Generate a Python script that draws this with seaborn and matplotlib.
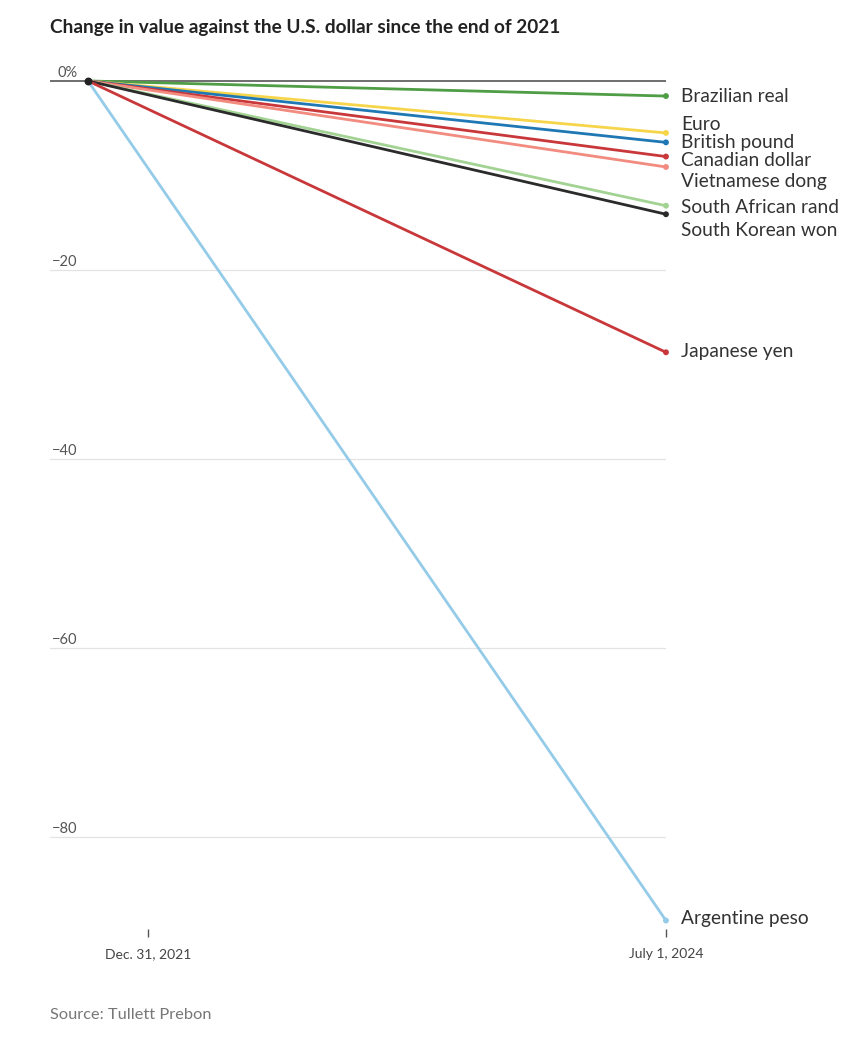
"""
Slope chart: currency change vs the U.S. dollar, end of 2021 to July 2024.
"""
import numpy as np
import pandas as pd
import matplotlib.pyplot as plt
import matplotlib.transforms as mtransforms
import seaborn as sns

# Data (percent change)
currencies = ["Brazilian real", "Euro", "British pound", "Canadian dollar",
              "Vietnamese dong", "South African rand", "South Korean won",
              "Japanese yen", "Argentine peso"]
change_2024 = [-1.6, -5.5, -6.5, -8.0, -9.1, -13.2, -14.1, -28.7, -88.8]
label_y = [-1.6, -4.6, -6.5, -8.4, -10.6, -13.4, -15.8, -28.6, -88.6]
colors = ["#4f9d45", "#f7d54a", "#1f78b4", "#c8373a", "#f28b80",
          "#a2d393", "#2b2b2b", "#c8373a", "#94cbe8"]
x_ticks = [0.104, 1.0]
x_ticklabels = ["Dec. 31, 2021", "July 1, 2024"]
y_grid = [0, -20, -40, -60, -80]
y_ticklabels = ["0%", "\u221220", "\u221240", "\u221260", "\u221280"]

df = pd.DataFrame({
    "currency": np.repeat(currencies, 2),
    "x": [0.0, 1.0] * len(currencies),
    "change": [v for c in change_2024 for v in (0.0, c)],
})
palette = dict(zip(currencies, colors))

sns.set_theme(style="white")
plt.rcParams["font.family"] = ["Lato", "DejaVu Sans"]

fig = plt.figure(figsize=(8.5, 10.37), dpi=100)
ax = fig.add_axes([0.0588, 0.1041, 0.7247, 0.8361])

# gridlines
for g in y_grid:
    ax.axhline(g, color="#555555" if g == 0 else "#e3e3e3",
               lw=1.2 if g == 0 else 0.9, zorder=0)

sns.lineplot(data=df, x="x", y="change", hue="currency", palette=palette,
             hue_order=currencies, linewidth=2.0, legend=False, ax=ax,
             sort=False, zorder=3)
ends = df[df["x"] == 1.0]
sns.scatterplot(data=ends, x="x", y="change", hue="currency", palette=palette,
                hue_order=currencies, s=18, linewidth=0, legend=False, ax=ax,
                zorder=4, clip_on=False)
ax.scatter([0.0], [0.0], s=22, color="#222222", zorder=5)

ax.set_xlim(-0.0657, 1.0)
ax.set_ylim(-89.7, 2.0)
for s in ax.spines.values():
    s.set_visible(False)
ax.set_yticks([])
ax.set_xticks(x_ticks)
ax.set_xticklabels(x_ticklabels)
ax.tick_params(axis="x", length=6, width=1, color="#555555", direction="out",
               pad=8, labelsize=10, labelcolor="#444444", bottom=True)
ax.set_xlabel("")
ax.set_ylabel("")

# y labels sit above the gridlines
trans = mtransforms.blended_transform_factory(ax.transAxes, ax.transData)
for g, lab in zip(y_grid, y_ticklabels):
    ax.text(0.003 if g != 0 else 0.013, g + 0.1, lab, transform=trans,
            ha="left", va="bottom", fontsize=10.5, color="#555555")

# end labels
for name, ly in zip(currencies, label_y):
    ax.text(1.025, ly, name, transform=trans, ha="left", va="center",
            fontsize=13.8, color="#333333", clip_on=False)

fig.text(50 / 850, 1 - 27 / 1037, "Change in value against the U.S. dollar since the end of 2021",
         ha="left", va="center", fontsize=13.7, fontweight="bold", color="#222222")
fig.text(50 / 850, 1 - 1015 / 1037, "Source: Tullett Prebon",
         ha="left", va="center", fontsize=11.8, color="#777777")

fig.savefig("out.png", dpi=100)
